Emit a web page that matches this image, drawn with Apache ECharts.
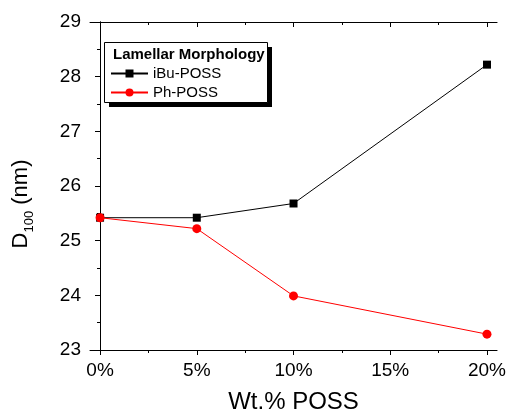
<!DOCTYPE html>
<html>
<head>
    <meta charset="UTF-8">
    <title>D100 vs Wt.% POSS</title>
    <script src="https://cdn.jsdelivr.net/npm/echarts@6/dist/echarts.min.js"></script>
    <style>
        html, body { margin: 0; padding: 0; background: #fff; }
        #main { width: 509px; height: 419px; }
    </style>
</head>
<body>
<div id="main"></div>
<script type="text/javascript">
    // data
    var wtPct = [0, 5, 10, 20];
    var iBuPOSS = [25.42, 25.42, 25.68, 28.22];
    var phPOSS = [25.42, 25.22, 23.99, 23.29];
    var xMajorTicks = [0, 5, 10, 15, 20];
    var xMinorTicks = [2.5, 7.5, 12.5, 17.5];
    var seriesNames = ['iBu-POSS', 'Ph-POSS'];

    var FONT = '"Liberation Sans", Arial, sans-serif';

    function pairs(xs, ys) {
        return xs.map(function (x, i) { return [x, ys[i]]; });
    }

    var myChart = echarts.init(document.getElementById('main'));

    // x axes: main one with labels + extra ones only for minor ticks / top mirror
    function xAx(pos, ticks, len, inside, extra) {
        var a = {
            type: 'value',
            position: pos,
            min: -0.52,
            max: 20.52,
            axisLine: {show: true, lineStyle: {color: '#000', width: 1}},
            axisTick: {show: true, customValues: ticks, length: len, inside: inside,
                lineStyle: {color: '#000', width: 1}},
            axisLabel: {show: false},
            splitLine: {show: false}
        };
        return Object.assign(a, extra || {});
    }

    var option = {
        animation: false,
        backgroundColor: '#fff',
        textStyle: {fontFamily: FONT, color: '#000'},
        grid: {left: 90, right: 11, top: 22, bottom: 67},
        graphic: [
            {type: 'rect', left: 109, top: 47, shape: {width: 163, height: 60},
                style: {fill: '#000'}, z: 10},
            {type: 'rect', left: 104, top: 42, shape: {width: 163, height: 60},
                style: {fill: '#fff', stroke: '#000', lineWidth: 1}, z: 11},
            {type: 'text', left: 113, top: 47, z: 12,
                style: {text: 'Lamellar Morphology', font: 'bold 15px ' + FONT, fill: '#000'}}
        ],
        legend: {
            data: seriesNames,
            orient: 'vertical',
            left: 110,
            top: 66,
            padding: 0,
            itemWidth: 37,
            itemHeight: 10,
            itemGap: 4,
            z: 20,
            textStyle: {fontSize: 15, color: '#000', fontFamily: FONT}
        },
        xAxis: [
            xAx('bottom', xMajorTicks, 5, false, {
                axisLabel: {show: true, customValues: xMajorTicks, formatter: '{value}%',
                    fontSize: 19, color: '#000', margin: 11, fontFamily: FONT},
                name: 'Wt.% POSS',
                nameLocation: 'middle',
                nameGap: 40,
                nameTextStyle: {fontSize: 24, color: '#000', fontFamily: FONT}
            }),
            xAx('bottom', xMinorTicks, 3, false, {axisLine: {show: false}}),
            xAx('top', xMajorTicks, 5, true),
            xAx('top', xMinorTicks, 3, true, {axisLine: {show: false}})
        ],
        yAxis: [
            {
                type: 'value',
                position: 'left',
                min: 23,
                max: 29,
                interval: 1,
                axisLine: {show: true, lineStyle: {color: '#000', width: 1}},
                axisTick: {show: true, length: 5, inside: false, lineStyle: {color: '#000'}},
                minorTick: {show: true, splitNumber: 2, length: 3, lineStyle: {color: '#000'}},
                axisLabel: {fontSize: 19, color: '#000', margin: 9, fontFamily: FONT},
                splitLine: {show: false},
                name: '{d|D}{sub|100}{d| (nm)}',
                nameLocation: 'middle',
                nameGap: 54,
                nameTextStyle: {
                    color: '#000',
                    fontFamily: FONT,
                    padding: [0, 36, 0, 0],
                    rich: {
                        d: {fontSize: 22, lineHeight: 26, verticalAlign: 'top', fontFamily: FONT, color: '#000'},
                        sub: {fontSize: 13, lineHeight: 26, verticalAlign: 'bottom', fontFamily: FONT, color: '#000'}
                    }
                }
            },
            {
                type: 'value',
                position: 'right',
                min: 23,
                max: 29,
                interval: 1,
                axisLine: {show: true, lineStyle: {color: '#000', width: 1}},
                axisTick: {show: true, length: 5, inside: true, lineStyle: {color: '#000'}},
                minorTick: {show: true, splitNumber: 2, length: 3, lineStyle: {color: '#000'}},
                axisLabel: {show: false},
                splitLine: {show: false}
            }
        ],
        series: [
            {
                name: seriesNames[0],
                type: 'line',
                xAxisIndex: 0,
                yAxisIndex: 0,
                data: pairs(wtPct, iBuPOSS),
                symbol: 'rect',
                symbolSize: 8,
                color: '#000',
                lineStyle: {color: '#000', width: 1},
                itemStyle: {color: '#000'}
            },
            {
                name: seriesNames[1],
                type: 'line',
                xAxisIndex: 0,
                yAxisIndex: 0,
                data: pairs(wtPct, phPOSS),
                symbol: 'circle',
                symbolSize: 9,
                color: '#ff0000',
                lineStyle: {color: '#ff0000', width: 1},
                itemStyle: {color: '#ff0000'}
            }
        ]
    };
    myChart.setOption(option);
</script>
</body>
</html>
